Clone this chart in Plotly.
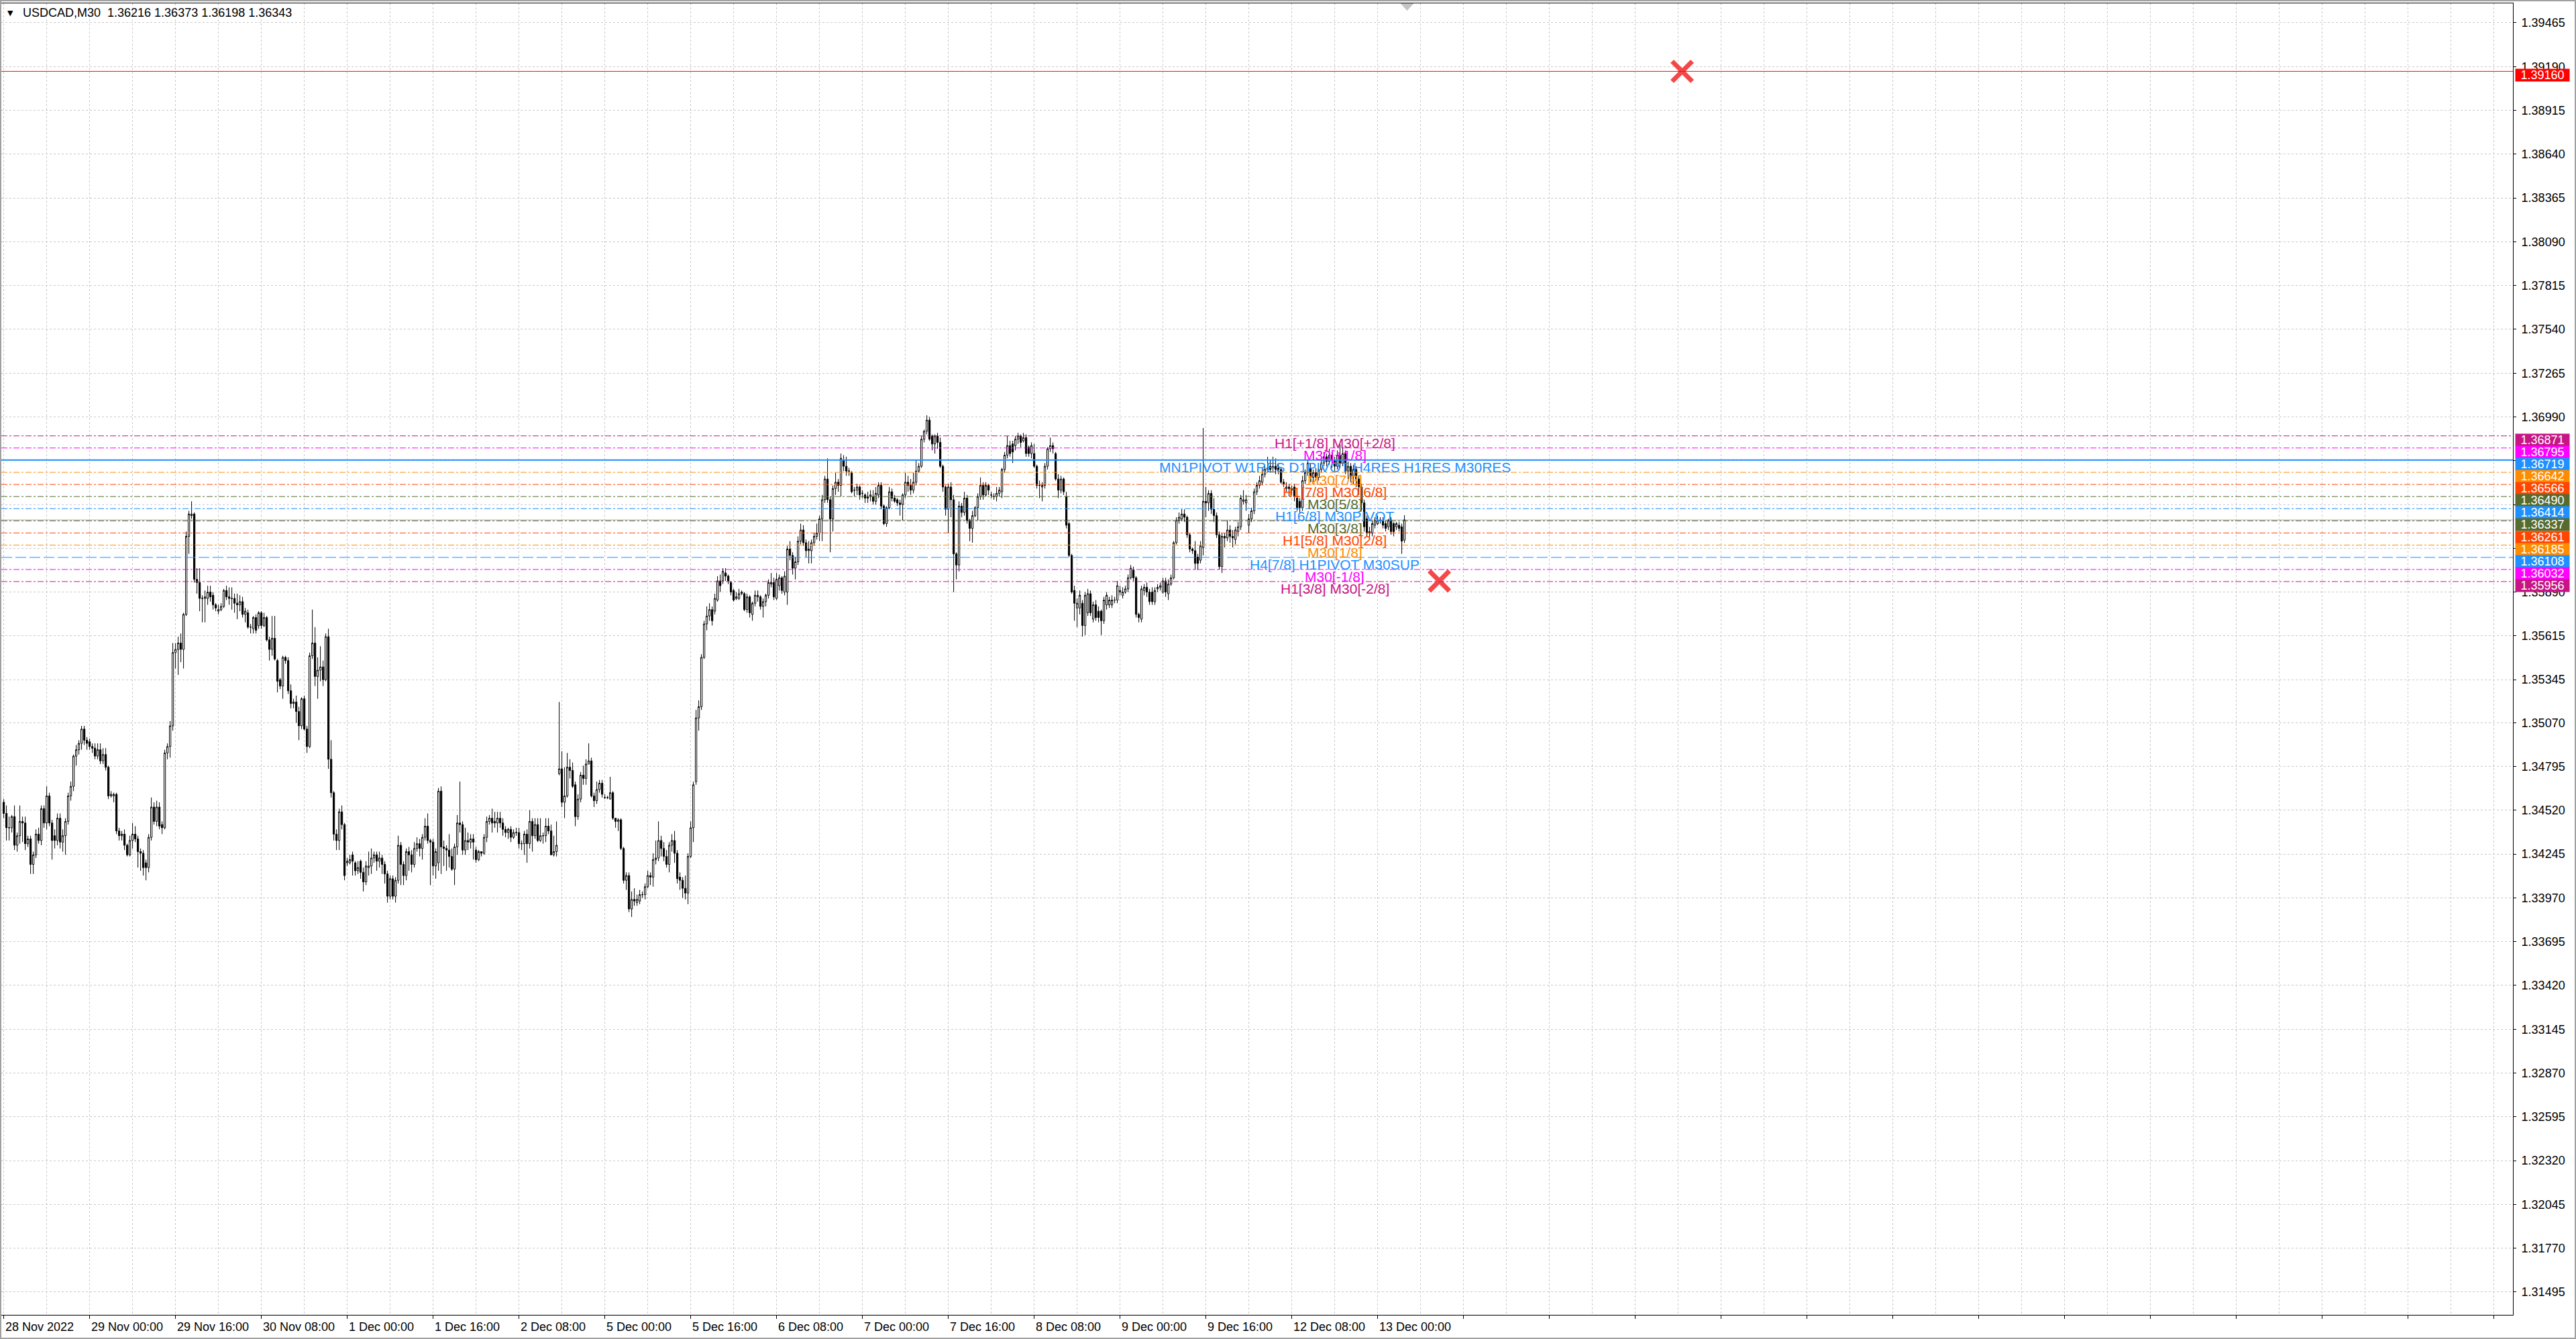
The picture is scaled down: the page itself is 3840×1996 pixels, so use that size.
import plotly.graph_objects as go

# ---------------- DATA ----------------
SYMBOL = "USDCAD,M30"
BASE = 1.3      # prices below are in pips (0.0001) above this base
PIP = 0.0001

open_pips = [
    457,450,441,441,448,430,436,445,444,431, 434,418,424,437,433,453,444,461,444,436,
    433,447,432,436,445,461,467,486,490,494, 503,496,495,492,491,486,490,483,487,479,
    461,461,462,439,436,437,430,424,433,437, 434,426,425,419,416,435,454,445,454,443,
    441,488,492,505,551,553,557,553,575,624, 637,638,597,595,585,585,585,589,587,581,
    577,578,580,590,586,585,585,582,581,583, 575,576,567,566,573,568,576,568,573,559,
    553,560,546,534,530,548,546,527,519,520, 514,505,522,503,492,549,557,536,540,542,
    534,561,484,463,437,433,451,443,419,419, 424,419,414,420,
    413,407,416,417,422,424,420,422,418,412, 398,409,398,408,430,418,411,426,424,418,
    428,431,428,435,442,433,432,417,419,464, 429,428,427,423,415,429,444,443,427,433,
    432,434,427,421,426,425,435,445,447,445, 444,447,444,440,438,440,435,438,438,431,
    431,437,431,445,436,443,433,436,436,442, 439,424,426,475,478,457,461,479,477,468,
    448,459,474,472,481,483,461,458,465,469, 460,460,459,463,447,445,446,428,408,411,
    390,396,394,395,399,399,404,411,410,421, 422,433,428,423,418,430,433,425,410,408,
    403,400,423,441,470,510,517,548,569,574,
    578,577,584,596,596,601,599,595,590,585, 585,588,588,578,586,575,582,586,586,580,
    583,587,594,595,585,593,598,589,589,616, 612,604,608,621,628,620,615,615,620,624,
    626,635,647,660,647,635,654,658,656,672, 668,665,664,653,653,655,651,650,649,649,
    649,646,650,656,643,632,642,652,648,647, 645,644,650,658,656,653,658,665,668,685,
    690,697,687,682,687,683,668,655,641,655, 647,613,606,643,639,648,634,629,637,642,
    649,656,650,656,650,649,649,651,652,666, 675,681,682,681,685,687,684,686,680,676,
    676,668,656,655,656,668,679,681,676,660,
    653,660,649,632,612,590,579,579,582,568, 576,588,572,581,577,577,571,581,581,581,
    584,584,589,587,589,591,598,603,598,575, 572,590,592,589,589,583,591,592,589,596,
    588,594,598,620,634,635,638,636,625,616, 615,611,609,617,646,645,651,641,637,625,
    605,624,623,628,624,622,627,630,646,645, 631,635,640,652,656,658,663,666,668,667,
    668,667,666,658,654,655,654,655,648,646, 642,659,664,667,661,664,661,666,670,674,
    671,675,672,668,675,670,676,665,668,662, 666,660,655,645,635,626,626,631,632,634,
    634,632,630,634,632,630,631,630,621.6,
]

close_pips = [
    450,441,441,448,430,436,445,444,431,434, 418,424,437,433,453,444,461,444,433,433,
    447,432,436,445,461,467,486,490,494,503, 496,494,492,491,486,490,483,487,479,461,
    462,462,439,436,437,430,424,433,437,434, 426,425,416,416,435,454,445,454,442,441,
    488,492,505,551,553,557,553,575,624,638, 638,597,595,585,585,586,589,586,581,579,
    578,580,590,586,585,585,582,581,583,575, 577,567,567,573,565,576,568,573,559,553,
    560,547,533,530,548,546,527,519,520,514, 505,522,503,492,549,557,536,540,542,534,
    561,484,463,437,433,451,443,411,420,421, 420,414,416,413,
    407,417,417,422,424,420,422,418,412,398, 409,398,408,430,418,411,426,424,418,428,
    431,428,435,442,433,432,417,426,464,429, 428,427,423,415,429,444,443,427,433,432,
    434,432,421,426,425,435,445,447,444,444, 447,444,440,438,440,435,438,438,431,431,
    437,431,445,436,443,433,436,436,442,439, 424,426,430,478,457,461,479,477,467,448,
    459,474,472,481,483,461,458,465,469,462, 460,460,463,447,445,446,428,408,411,390,
    396,395,396,399,399,404,411,410,421,422, 433,428,423,418,430,433,425,409,408,403,
    400,423,441,468,510,517,548,569,574,578,
    571,585,596,593,602,599,596,589,584,586, 588,589,578,586,576,582,587,587,580,583,
    587,595,595,586,597,598,590,599,616,612, 604,608,621,628,620,615,616,620,624,626,
    635,647,660,647,635,654,658,656,673,668, 665,665,652,653,655,650,651,648,648,650,
    646,651,656,643,632,642,652,648,646,645, 644,650,658,656,653,658,665,668,685,690,
    697,685,682,687,683,668,655,641,655,647, 613,606,643,639,648,634,629,637,642,649,
    656,650,656,653,650,649,651,653,666,675, 681,676,677,685,687,683,686,676,676,681,
    668,656,656,656,668,679,681,679,660,653,
    660,652,631,612,589,582,582,587,568,587, 588,576,581,573,573,571,584,587,584,584,
    584,593,590,589,591,598,604,598,575,573, 591,592,589,583,583,590,592,593,596,589,
    594,598,620,634,636,638,636,625,616,615, 607,607,618,646,645,651,641,637,625,605,
    624,623,628,624,623,628,630,648,647,647, 635,640,652,656,659,663,666,667,666,668,
    666,666,658,657,655,654,653,649,642,642, 659,664,670,661,664,661,666,670,674,671,
    675,672,668,675,670,676,665,668,662,666, 660,655,645,630,626,627,632,634,634,634,
    631,629,634,627,627,632,629,621,634.3,
]

high_pips = [
    459,455,448,449,455,438,455,448,448,436, 436,426,440,441,455,455,467,463,446,440,
    450,450,440,447,463,470,487,493,496,505, 505,498,497,494,494,494,494,491,491,480,
    464,463,463,441,439,440,431,436,444,442, 436,428,427,421,437,460,457,458,457,445,
    490,494,508,557,557,561,563,576,627,640, 646,639,604,604,587,590,593,593,589,582,
    581,582,591,593,592,592,588,588,587,586, 579,578,569,574,575,577,577,576,574,561,
    574,574,547,535,549,549,548,531,522,524, 517,523,524,505,551,578,567,548,555,546,
    563,566,496,464,440,453,455,444,422,424, 426,420,420,421,
    416,420,426,428,426,426,426,424,420,414, 411,411,410,436,432,420,428,429,427,432,
    435,434,437,447,450,434,434,428,466,467, 433,430,437,428,431,449,470,445,441,438,
    437,437,429,427,426,437,448,449,453,451, 451,451,447,442,441,442,440,441,441,433,
    439,440,452,447,447,447,447,438,447,447, 443,436,445,520,489,479,488,484,482,470,
    462,476,480,484,494,485,463,470,471,471, 462,461,473,464,447,447,447,429,413,413,
    401,403,399,402,401,406,414,413,425,433, 445,436,432,427,432,437,439,427,413,410,
    411,425,445,470,515,521,550,571,580,582,
    580,588,599,600,604,604,600,596,591,589, 591,590,589,588,587,583,590,590,587,585,
    588,597,601,598,601,600,599,602,618,621, 614,611,624,632,631,622,621,622,626,632,
    637,650,662,673,649,656,664,660,676,675, 674,667,665,655,657,656,653,651,652,653,
    653,655,658,658,644,643,655,654,650,648, 647,651,664,662,660,664,672,670,687,691,
    700,699,688,688,689,686,669,656,657,658, 650,614,646,645,652,650,635,640,643,651,
    661,658,658,657,652,651,655,655,667,677, 687,684,684,687,689,688,689,688,681,683,
    682,669,659,658,670,680,686,683,677,663,
    662,661,652,633,613,593,585,590,584,589, 591,590,583,584,580,578,586,589,586,587,
    586,596,593,592,593,600,606,605,599,576, 593,594,595,591,592,592,594,595,598,598,
    597,600,621,636,639,641,641,637,626,617, 621,613,621,692,655,653,653,648,639,627,
    626,626,634,631,628,630,633,650,653,650, 638,642,654,658,662,666,668,674,672,674,
    673,670,667,660,658,657,656,657,649,648, 662,666,672,670,666,667,668,673,677,676,
    679,677,674,678,682,680,678,671,670,669, 668,662,657,647,637,630,634,636,637,636,
    636,634,635,636,633,633,633,632,637.3,
]

low_pips = [
    447,433,433,438,427,426,431,432,427,429, 412,412,422,431,430,441,440,442,421,428,
    430,428,426,424,443,458,464,480,487,490, 493,490,490,488,484,484,481,481,477,459,
    460,457,437,433,433,427,423,423,428,432, 416,414,411,408,413,433,443,442,440,437,
    440,484,485,502,541,537,545,541,574,613, 635,595,588,577,570,570,581,583,578,577,
    575,577,579,584,581,578,576,572,577,573, 570,566,563,563,563,566,566,567,558,546,
    549,546,526,528,522,544,525,516,516,507, 496,503,502,488,491,547,530,522,533,530,
    533,478,460,433,427,427,440,408,417,418, 411,411,412,409,
    401,405,411,412,419,414,416,412,406,394, 396,396,394,406,405,405,408,414,413,416,
    426,423,421,433,431,405,411,409,414,412, 417,414,416,414,405,424,438,424,424,427,
    428,421,419,420,423,424,432,443,438,441, 438,441,436,435,434,432,434,436,428,427,
    424,419,428,426,434,432,432,431,432,437, 424,423,423,474,454,447,460,472,466,442,
    446,457,468,468,481,460,454,456,463,460, 459,459,459,446,441,439,427,406,402,388,
    385,392,392,393,397,396,403,405,404,418, 420,423,420,416,413,426,419,406,402,397,
    396,393,422,432,468,502,515,547,565,571,
    568,575,583,589,594,596,594,587,583,584, 584,587,577,576,573,571,580,583,578,573,
    580,585,592,584,584,590,588,587,581,609, 600,597,606,619,618,611,607,607,618,622,
    621,621,645,645,614,627,650,652,649,665, 662,662,651,649,650,647,648,645,645,646,
    644,644,648,641,631,630,641,646,645,643, 637,634,648,652,650,651,656,664,667,683,
    688,684,678,676,679,667,652,637,626,636, 589,597,602,636,637,632,621,620,636,634,
    647,647,649,650,648,647,646,649,648,664, 673,674,670,678,682,680,683,674,674,673,
    667,654,648,646,654,666,677,676,659,648,
    651,650,629,611,588,571,567,575,561,562, 574,574,570,571,570,562,569,578,579,579,
    582,582,587,585,588,589,597,596,573,570, 570,587,586,581,581,581,589,590,588,586,
    584,593,597,619,632,634,633,623,614,613, 603,603,607,612,636,640,638,633,623,603,
    601,617,621,620,617,619,624,628,644,640, 626,633,638,650,654,656,661,664,664,665,
    663,663,657,655,652,649,650,646,640,638, 640,657,662,658,658,659,659,664,668,668,
    669,667,665,666,667,668,663,660,658,657, 655,650,640,627,624,622,624,629,631,632,
    629,627,628,625,624,628,627,613,619.8,
]

time_labels = ["28 Nov 2022", "29 Nov 00:00", "29 Nov 16:00", "30 Nov 08:00", "1 Dec 00:00",
               "1 Dec 16:00", "2 Dec 08:00", "5 Dec 00:00", "5 Dec 16:00", "6 Dec 08:00",
               "7 Dec 00:00", "7 Dec 16:00", "8 Dec 08:00", "9 Dec 00:00", "9 Dec 16:00",
               "12 Dec 08:00", "13 Dec 00:00"]
time_label_bars = [0, 32, 64, 96, 128, 160, 192, 224, 256, 288, 320, 352, 384, 416, 448, 480, 512]

# grid levels of the price scale; "" where the reference hides the label behind price boxes
price_tick_values = [1.39465, 1.39190, 1.38915, 1.38640, 1.38365, 1.38090, 1.37815, 1.37540,
                     1.37265, 1.36990, 1.36715, 1.36440, 1.36165, 1.35890, 1.35615, 1.35340,
                     1.35070, 1.34795, 1.34520, 1.34245, 1.33970, 1.33695, 1.33420, 1.33145,
                     1.32870, 1.32595, 1.32320, 1.32045, 1.31770, 1.31495]
price_tick_labels = ["1.39465", "1.39190", "1.38915", "1.38640", "1.38365", "1.38090", "1.37815",
                     "1.37540", "1.37265", "1.36990", "", "", "", "1.35890",
                     "1.35615", "1.35345", "1.35070", "1.34795", "1.34520", "1.34245", "1.33970",
                     "1.33695", "1.33420", "1.33145", "1.32870", "1.32595", "1.32320", "1.32045",
                     "1.31770", "1.31495"]

level_prices = [1.36871, 1.36795, 1.36719, 1.36642, 1.36566, 1.36490, 1.36414,
                1.36337, 1.36261, 1.36185, 1.36108, 1.36032, 1.35956]
level_names = ["H1[+1/8] M30[+2/8]", "M30[+1/8]", "MN1PIVOT W1RES D1PIVOT H4RES H1RES M30RES",
               "M30[7/8]", "H1[7/8] M30[6/8]", "M30[5/8]", "H1[6/8] M30PIVOT", "M30[3/8]",
               "H1[5/8] M30[2/8]", "M30[1/8]", "H4[7/8] H1PIVOT M30SUP", "M30[-1/8]",
               "H1[3/8] M30[-2/8]"]
level_colors = ["#C71585", "#FF00FF", "#1E90FF", "#FF8C00", "#FF4500", "#556B2F", "#1E90FF",
                "#556B2F", "#FF4500", "#FF8C00", "#1E90FF", "#FF00FF", "#C71585"]
level_dash = ["dashdot", "dashdot", "solid", "dashdot", "dashdot", "dashdot", "dashdot",
              "dashdot", "dashdot", "dashdot", "16px,5px", "dashdot", "dashdot"]
level_width = [1, 1, 2, 1, 1, 1, 1, 1, 1, 1, 1, 1, 1]
level_label_bar = 496

stop_line_price = 1.39160
cross_bars = [625.5, 535]
cross_prices = [1.39160, 1.35960]

# ---------------- BUILD ----------------
n = min(len(open_pips), len(close_pips), len(high_pips), len(low_pips))
to_price = lambda v: round(BASE + v * PIP, 5)
opens = [to_price(v) for v in open_pips[:n]]
closes = [to_price(v) for v in close_pips[:n]]
highs = [to_price(v) for v in high_pips[:n]]
lows = [to_price(v) for v in low_pips[:n]]
bars = list(range(n))

GRID = "#C8C8C8"
GDASH = "3px,3px"
FONT = "Liberation Sans"

fig = go.Figure()
fig.add_trace(go.Candlestick(
    x=bars, open=opens, high=highs, low=lows, close=closes,
    increasing=dict(line=dict(color="black", width=1), fillcolor="white"),
    decreasing=dict(line=dict(color="black", width=1), fillcolor="black"),
    whiskerwidth=0, hoverinfo="skip", showlegend=False))

fig.add_trace(go.Scatter(
    x=cross_bars, y=cross_prices, mode="markers", hoverinfo="skip", showlegend=False,
    marker=dict(symbol="x-thin", size=30, color="#F44848",
                line=dict(color="#F44848", width=7))))

shapes = []
for p, c, d, w in zip(level_prices, level_colors, level_dash, level_width):
    shapes.append(dict(type="line", xref="paper", x0=0, x1=1, yref="y", y0=p, y1=p,
                       line=dict(color=c, width=w, dash=d), layer="above"))
# bid line
shapes.append(dict(type="line", xref="paper", x0=0, x1=1, yref="y", y0=closes[-1], y1=closes[-1],
                   line=dict(color="#A8A8A8", width=1), layer="below"))
# red horizontal line
shapes.append(dict(type="line", xref="paper", x0=0, x1=1, yref="y", y0=stop_line_price,
                   y1=stop_line_price, line=dict(color="#FF0000", width=1)))
# chart-shift marker at the top
shapes.append(dict(type="path", xref="x", yref="paper", xsizemode="pixel", ysizemode="pixel",
                   xanchor=n, yanchor=1, path="M -10,0 L 10,0 L 0,-11 Z",
                   fillcolor="#C4C4C4", line=dict(width=0)))
# window frame
PW, PH = 3840 - 96, 1996 - 41
shapes.append(dict(type="rect", xref="paper", yref="paper", x0=-2 / PW, x1=1 + 94 / PW,
                   y0=-36 / PH, y1=1 + 5 / PH, line=dict(color="#A0A0A0", width=4)))

ann = []
for p, name, c in zip(level_prices, level_names, level_colors):
    ann.append(dict(x=level_label_bar, y=p, xref="x", yref="y", text=name, showarrow=False,
                    xanchor="center", yanchor="middle", yshift=-11,
                    font=dict(family=FONT, size=21, color=c)))
for p, c in zip(level_prices + [stop_line_price], level_colors + ["#FF0000"]):
    ann.append(dict(x=1, y=p, xref="paper", yref="y", text=f"{p:.5f}", showarrow=False,
                    xanchor="left", yanchor="middle", xshift=3, yshift=-6,
                    width=80, height=18, borderpad=0, bgcolor=c, align="center",
                    font=dict(family=FONT, size=18, color="white")))
for lab, b in zip(time_labels, time_label_bars):
    ann.append(dict(x=b, y=0, xref="x", yref="paper", text=lab, showarrow=False,
                    xanchor="left", yanchor="middle", xshift=0, yshift=-18,
                    font=dict(family=FONT, size=18, color="black")))
title_text = f"{SYMBOL}  {opens[-1]:.5f} {highs[-1]:.5f} {lows[-1]:.5f} {closes[-1]:.5f}"
ann.append(dict(x=0, y=1, xref="paper", yref="paper", text=title_text, showarrow=False,
                xanchor="left", yanchor="middle", xshift=30, yshift=-14,
                font=dict(family=FONT, size=18, color="black")))
ann.append(dict(x=0, y=1, xref="paper", yref="paper", text="▼", showarrow=False,
                xanchor="left", yanchor="middle", xshift=7, yshift=-14,
                font=dict(family="DejaVu Sans", size=11, color="black")))

fig.update_layout(
    width=3840, height=1996,
    margin=dict(l=2, r=94, t=5, b=36),
    paper_bgcolor="white", plot_bgcolor="white",
    showlegend=False, boxgap=0.25, boxgroupgap=0.25,
    font=dict(family=FONT, size=18, color="black"),
    shapes=shapes, annotations=ann,
    xaxis=dict(range=[-0.9, 935.1], tickmode="linear", tick0=0, dtick=32,
               showticklabels=False, ticks="outside", ticklen=5, tickcolor="black",
               showgrid=True, gridcolor=GRID, griddash=GDASH, gridwidth=1,
               minor=dict(tickmode="linear", tick0=0, dtick=16, showgrid=True,
                          gridcolor=GRID, griddash=GDASH, ticks=""),
               showline=True, linecolor="black", linewidth=1, mirror=True,
               zeroline=False, rangeslider=dict(visible=False)),
    yaxis=dict(range=[1.313513, 1.395870], side="right", tickmode="array",
               tickvals=price_tick_values, ticktext=price_tick_labels,
               ticks="outside", ticklen=4, tickcolor="black", ticklabelstandoff=4,
               tickfont=dict(family=FONT, size=18, color="black"),
               showgrid=True, gridcolor=GRID, griddash=GDASH, gridwidth=1,
               showline=True, linecolor="black", linewidth=1, mirror=True, zeroline=False),
)

fig.write_html("out.html", config={"displayModeBar": False},
               post_script="document.body.style.margin='0';document.body.style.overflow='hidden';")
